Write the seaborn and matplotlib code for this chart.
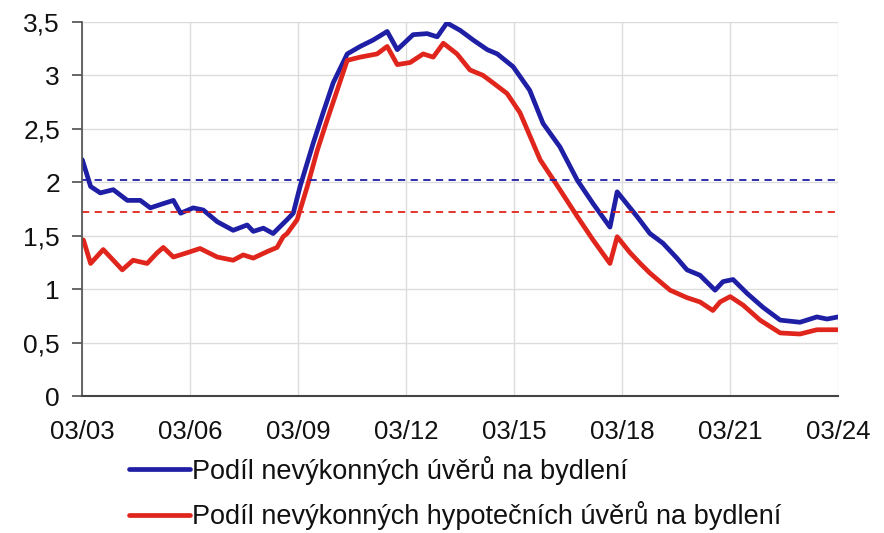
import numpy as np
import pandas as pd
import matplotlib
matplotlib.use("Agg")
import matplotlib.pyplot as plt
import seaborn as sns
from matplotlib.ticker import FuncFormatter
from matplotlib.lines import Line2D

# ---- data (decimal year, value) ----
blue_t = [2003.17, 2003.4, 2003.67, 2004.03, 2004.42, 2004.78, 2005.06, 2005.42, 2005.7, 2005.9,
          2006.25, 2006.53, 2006.92, 2007.36, 2007.75, 2007.92, 2008.2, 2008.47, 2008.86, 2009.03,
          2009.22, 2009.58, 2009.86, 2010.14, 2010.53, 2010.89, 2011.25, 2011.64, 2011.92, 2012.36,
          2012.75, 2013.03, 2013.3, 2013.67, 2014.03, 2014.42, 2014.7, 2015.14, 2015.6, 2015.97,
          2016.44, 2016.92, 2017.36, 2017.83, 2018.03, 2018.58, 2018.94, 2019.3, 2019.69, 2019.97,
          2020.33, 2020.75, 2020.97, 2021.25, 2021.64, 2022.08, 2022.56, 2023.11, 2023.58, 2023.86,
          2024.17]
blue_v = [2.21, 1.96, 1.90, 1.93, 1.83, 1.83, 1.76, 1.80, 1.83, 1.71,
          1.76, 1.74, 1.63, 1.55, 1.60, 1.54, 1.57, 1.52, 1.65, 1.71,
          1.96, 2.36, 2.65, 2.93, 3.20, 3.27, 3.33, 3.41, 3.24, 3.38,
          3.39, 3.36, 3.49, 3.42, 3.33, 3.24, 3.20, 3.08, 2.86, 2.55,
          2.33, 2.02, 1.80, 1.58, 1.91, 1.68, 1.52, 1.43, 1.29, 1.18,
          1.13, 0.99, 1.07, 1.09, 0.96, 0.83, 0.71, 0.69, 0.74, 0.72,
          0.74]
red_t = [2003.2, 2003.4, 2003.75, 2004.03, 2004.28, 2004.58, 2004.97, 2005.25, 2005.42, 2005.7,
         2006.08, 2006.44, 2006.92, 2007.36, 2007.64, 2007.92, 2008.3, 2008.58, 2008.75, 2008.86,
         2009.14, 2009.42, 2009.7, 2009.97, 2010.25, 2010.53, 2010.89, 2011.36, 2011.64, 2011.92,
         2012.28, 2012.64, 2012.92, 2013.2, 2013.58, 2013.94, 2014.3, 2014.58, 2014.97, 2015.33,
         2015.89, 2016.44, 2016.92, 2017.36, 2017.83, 2018.03, 2018.39, 2018.67, 2018.94, 2019.5,
         2019.97, 2020.33, 2020.69, 2020.89, 2021.17, 2021.53, 2022.0, 2022.56, 2023.11, 2023.58,
         2024.17]
red_v = [1.46, 1.24, 1.37, 1.27, 1.18, 1.27, 1.24, 1.34, 1.39, 1.30,
         1.34, 1.38, 1.30, 1.27, 1.32, 1.29, 1.35, 1.39, 1.49, 1.52,
         1.65, 1.96, 2.30, 2.58, 2.86, 3.14, 3.17, 3.20, 3.27, 3.10,
         3.12, 3.20, 3.17, 3.30, 3.20, 3.05, 3.00, 2.93, 2.83, 2.65,
         2.21, 1.93, 1.68, 1.46, 1.24, 1.49, 1.34, 1.24, 1.15, 0.99,
         0.92, 0.88, 0.80, 0.88, 0.93, 0.85, 0.71, 0.59, 0.58, 0.62,
         0.62]
avg_blue = 2.02
avg_red = 1.72

labels = ["Podíl nevýkonných úvěrů na bydlení",
          "Podíl nevýkonných hypotečních úvěrů na bydlení"]
xtick_years = [2003, 2006, 2009, 2012, 2015, 2018, 2021, 2024]
xtick_labels = ["03/03", "03/06", "03/09", "03/12", "03/15", "03/18", "03/21", "03/24"]
yticks = [0, 0.5, 1, 1.5, 2, 2.5, 3, 3.5]

BLUE = "#1f1fa6"
RED = "#e0261c"

df = pd.concat([
    pd.DataFrame({"t": blue_t, "v": blue_v, "s": labels[0]}),
    pd.DataFrame({"t": red_t, "v": red_v, "s": labels[1]}),
])

sns.set_theme(style="white")
plt.rcParams['font.family'] = ['Liberation Sans', 'DejaVu Sans']

fig = plt.figure(figsize=(8.84, 5.33), dpi=100)
ax = fig.add_axes([0.093, 0.257, 0.855, 0.702])

sns.lineplot(data=df, x="t", y="v", hue="s", palette=[BLUE, RED],
             linewidth=3.4, ax=ax, legend=False, sort=True)
ax.axhline(avg_blue, color=BLUE, linestyle=(0, (4, 3)), linewidth=1.3)
ax.axhline(avg_red, color=RED, linestyle=(0, (4, 3)), linewidth=1.3)

xt = [y + 2 / 12 for y in xtick_years]
ax.set_xlim(xt[0], xt[-1])
ax.set_xticks(xt)
ax.set_xticklabels(xtick_labels)
ax.set_ylim(0, 3.5)
ax.set_yticks(yticks)
ax.yaxis.set_major_formatter(FuncFormatter(lambda v, p: f"{v:g}".replace(".", ",")))
ax.set_xlabel("")
ax.set_ylabel("")
ax.grid(True, color="#dcdcdc", linewidth=1)
for s in ["top", "right"]:
    ax.spines[s].set_visible(False)
ax.spines["left"].set_color("#555555")
ax.spines["bottom"].set_color("#444444")
ax.spines["bottom"].set_linewidth(1.5)
ax.tick_params(axis="y", which="both", left=True, length=7, color="#555555",
               labelsize=19, pad=9, labelcolor="#111111")
ax.tick_params(axis="x", bottom=False, labelsize=18.5, pad=11, labelcolor="#111111")

handles = [Line2D([0], [0], color=BLUE, lw=3.4), Line2D([0], [0], color=RED, lw=3.4)]
fig.legend(handles, labels, loc="center left", bbox_to_anchor=(0.118, 0.075),
           frameon=False, fontsize=19.5, handlelength=2.25, handletextpad=0.1,
           labelspacing=0.6, labelcolor="#111111")

fig.savefig("out.png", dpi=100)
